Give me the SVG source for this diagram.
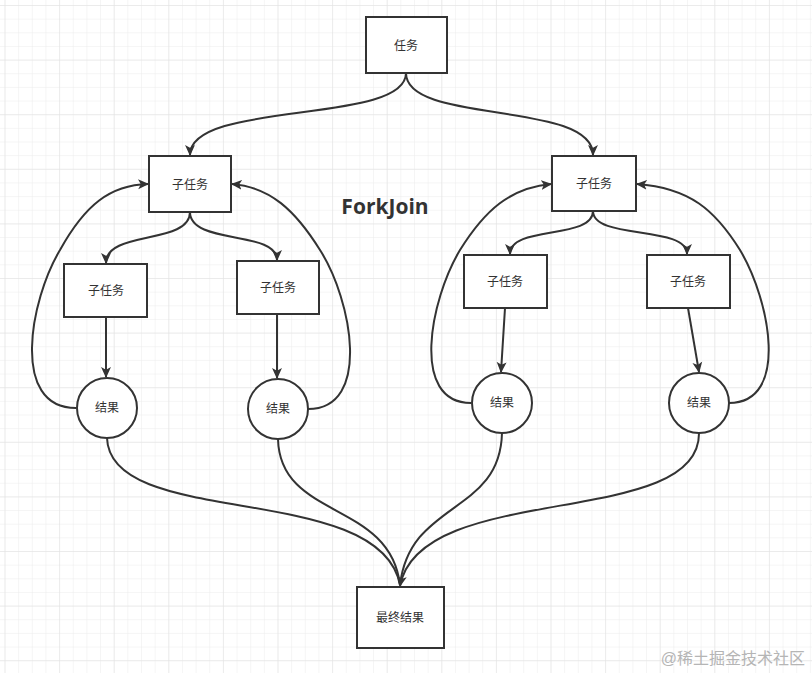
<svg xmlns="http://www.w3.org/2000/svg" width="812" height="673" viewBox="0 0 812 673">
<style>
.box{fill:#fff;stroke:#333;stroke-width:2}
.lbl{font-family:"Liberation Sans","Noto Sans CJK SC",sans-serif;font-size:12px;fill:#333;text-anchor:middle;dominant-baseline:central}
.c{fill:none;stroke:#333;stroke-width:2}
</style>
<defs>
<pattern id="g" width="13.65" height="13.65" patternUnits="userSpaceOnUse" x="4.5" y="5">
<path d="M0 0H13.65M0 0V13.65" fill="none" stroke="#ececec" stroke-width="1"/>
</pattern>
<pattern id="G" width="54.6" height="54.6" patternUnits="userSpaceOnUse" x="4.5" y="5">
<path d="M0 0H54.6M0 0V54.6" fill="none" stroke="#e2e2e2" stroke-width="1"/>
</pattern>
<marker id="a" viewBox="0 0 10 10" refX="9" refY="5" markerWidth="11" markerHeight="11" orient="auto" markerUnits="userSpaceOnUse">
<path d="M0 0.5L10 5L0 9.5L2.5 5Z" fill="#333"/>
</marker>
</defs>
<rect width="812" height="673" fill="#fff"/>
<rect width="812" height="673" fill="url(#g)"/>
<rect width="812" height="673" fill="url(#G)"/>

<g id="connectors">
<path class="c" marker-end="url(#a)" d="M406 73C406 125 190 100 190 155"/>
<path class="c" marker-end="url(#a)" d="M406 73C406 125 593 100 593 155"/>
<path class="c" marker-end="url(#a)" d="M190 212C190 245 106 230 106 263"/>
<path class="c" marker-end="url(#a)" d="M190 212C190 245 277 230 277 260"/>
<path class="c" marker-end="url(#a)" d="M593 211C593 240 510 225 510 254"/>
<path class="c" marker-end="url(#a)" d="M593 211C593 240 687 225 687 254"/>
<path class="c" marker-end="url(#a)" d="M106 317V377"/>
<path class="c" marker-end="url(#a)" d="M277 314V378"/>
<path class="c" marker-end="url(#a)" d="M505 308L501 372"/>
<path class="c" marker-end="url(#a)" d="M688 308L699 372"/>
<path class="c" marker-end="url(#a)" d="M76 408C10 408 30 300 60 250C85 205 110 185 148 184"/>
<path class="c" marker-end="url(#a)" d="M308 409C372 409 352 300 320 250C295 210 270 187 232 184"/>
<path class="c" marker-end="url(#a)" d="M471 403C410 403 430 300 460 250C485 210 510 188 551 184"/>
<path class="c" marker-end="url(#a)" d="M729 403C790 403 770 300 740 250C715 210 690 188 637 184"/>
<path class="c" d="M107 438C110 530 380 480 400 585"/>
<path class="c" d="M278 439C280 520 390 500 400 585"/>
<path class="c" d="M502 433C500 515 410 500 400 585"/>
<path class="c" marker-end="url(#a)" d="M699 433C700 530 420 480 400 586"/>
</g>

<g id="task"><rect class="box" x="366" y="17" width="81" height="56"/><text class="lbl" x="406" y="46">任务</text></g>
<g id="sub-left"><rect class="box" x="149" y="156" width="82" height="56"/><text class="lbl" x="190" y="185">子任务</text></g>
<g id="sub-right"><rect class="box" x="552" y="156" width="84" height="55"/><text class="lbl" x="594" y="184">子任务</text></g>
<g id="child-1"><rect class="box" x="64" y="264" width="83" height="53"/><text class="lbl" x="106" y="291">子任务</text></g>
<g id="child-2"><rect class="box" x="237" y="261" width="82" height="53"/><text class="lbl" x="278" y="288">子任务</text></g>
<g id="child-3"><rect class="box" x="464" y="255" width="83" height="53"/><text class="lbl" x="505" y="282">子任务</text></g>
<g id="child-4"><rect class="box" x="647" y="255" width="83" height="53"/><text class="lbl" x="688" y="282">子任务</text></g>
<g id="result-1"><circle class="box" cx="107" cy="408" r="30"/><text class="lbl" x="107" y="408">结果</text></g>
<g id="result-2"><circle class="box" cx="278" cy="409" r="30"/><text class="lbl" x="278" y="409">结果</text></g>
<g id="result-3"><circle class="box" cx="502" cy="403" r="30"/><text class="lbl" x="502" y="403">结果</text></g>
<g id="result-4"><circle class="box" cx="699" cy="403" r="30"/><text class="lbl" x="699" y="403">结果</text></g>
<g id="final"><rect class="box" x="357" y="587" width="87" height="61"/><text class="lbl" x="400" y="618">最终结果</text></g>

<text x="385" y="214" font-family="'Open Sans','Liberation Sans',sans-serif" font-weight="bold" font-size="21" fill="#333" text-anchor="middle">ForkJoin</text>
<text x="805" y="664" font-family="'Liberation Sans','Noto Sans CJK SC',sans-serif" font-size="16" fill="#b5b5b5" text-anchor="end">@稀土掘金技术社区</text>
</svg>
